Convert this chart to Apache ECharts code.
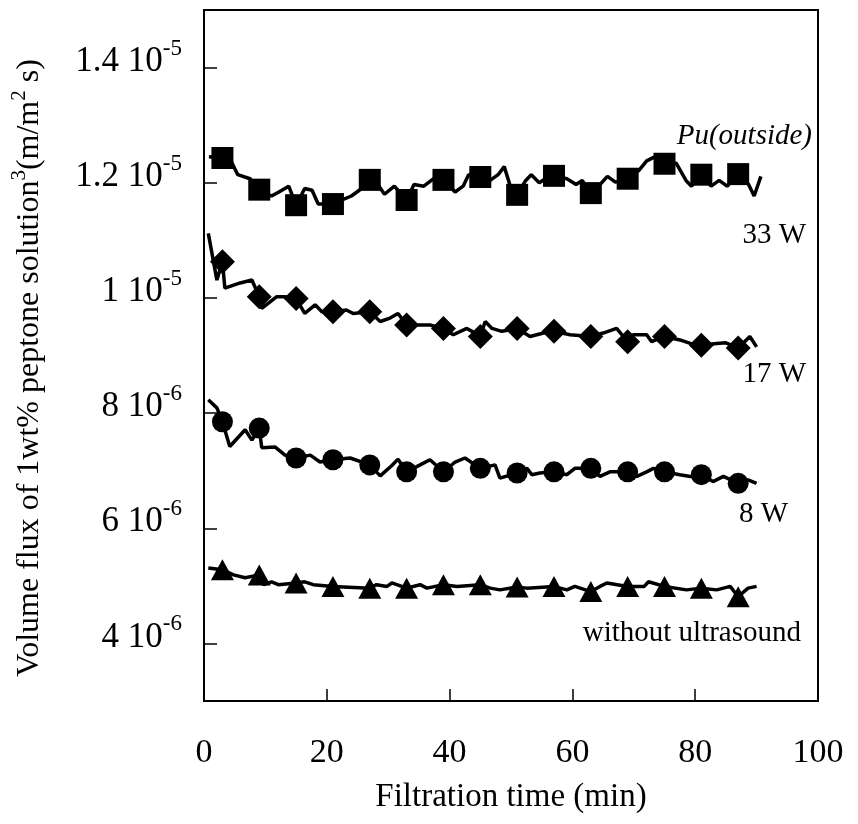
<!DOCTYPE html>
<html>
<head>
<meta charset="utf-8">
<script src="https://cdn.jsdelivr.net/npm/echarts@6/dist/echarts.min.js"></script>
<style>html,body{margin:0;padding:0;background:#fff}#c{width:858px;height:824px}</style>
</head>
<body>
<div id="c"></div>
<script>
// Values in units of 1e-6 m3/(m2 s); time in minutes
const markerTime = [3, 9, 15, 21, 27, 33, 39, 45, 51, 57, 63, 69, 75, 81, 87];
const marker33W = [12.43, 11.88, 11.61, 11.63, 12.05, 11.70, 12.05, 12.10, 11.79, 12.12, 11.82, 12.07, 12.33, 12.14, 12.15];
const marker17W = [10.63, 10.02, 9.99, 9.76, 9.76, 9.53, 9.47, 9.33, 9.47, 9.42, 9.33, 9.24, 9.33, 9.18, 9.13];
const marker8W  = [7.85, 7.74, 7.22, 7.19, 7.10, 6.98, 6.98, 7.04, 6.96, 6.98, 7.04, 6.98, 6.98, 6.93, 6.78];
const markerNoUS = [5.28, 5.19, 5.05, 4.99, 4.96, 4.96, 5.02, 5.02, 4.98, 4.99, 4.90, 4.99, 4.99, 4.96, 4.81];

const line33WTime = [0.8, 3, 4.3, 5.5, 7.5, 9, 11, 12.2, 13.8, 15, 16.4, 17.6, 18.6, 21, 22.4, 24, 25.3, 27, 28.5, 29.4, 31, 33, 34.2, 35.8, 37.4, 39, 40.9, 42.2, 43.1, 45, 46.6, 47.9, 48.9, 49.8, 51, 52.4, 53.3, 54.6, 55.6, 57, 59.1, 60.6, 61.6, 63, 64.5, 65.7, 67, 69, 70.8, 72.1, 73.4, 75, 76.9, 78.5, 79.4, 81, 82.6, 83.9, 85.2, 87, 88.7, 89.6, 90.7];
const line33WFlux = [12.45, 12.43, 12.40, 12.14, 12.07, 11.88, 11.77, 11.84, 11.94, 11.61, 11.90, 11.87, 11.63, 11.63, 11.70, 11.77, 11.87, 12.05, 11.94, 11.80, 11.94, 11.70, 11.97, 11.94, 12.07, 12.05, 11.84, 11.94, 12.14, 12.10, 12.04, 12.14, 12.28, 11.97, 11.79, 12.04, 12.14, 12.00, 12.07, 12.12, 12.07, 11.97, 12.04, 11.82, 11.97, 12.11, 12.01, 12.07, 12.21, 12.38, 12.45, 12.33, 12.34, 12.04, 11.94, 12.14, 11.94, 12.04, 11.94, 12.15, 11.97, 11.77, 12.11];

const line17WTime = [0.7, 2.1, 3, 3.4, 5.9, 7.8, 9, 9.4, 11.8, 13.2, 15, 16.4, 18.1, 19.2, 21, 23.2, 24.3, 27, 28.7, 30.3, 31.6, 33, 34.6, 36.8, 39, 40.6, 42.8, 43.8, 45, 45.8, 46.9, 48.5, 51, 53.1, 55.3, 57, 59.6, 63, 65.0, 67.2, 69, 69.9, 72.1, 72.9, 75, 77.5, 79.2, 81, 83.5, 85, 87, 88.9, 90.0];
const line17WFlux = [11.12, 10.31, 10.63, 10.17, 10.26, 10.31, 10.02, 9.82, 10.02, 10.02, 9.99, 9.73, 9.88, 9.76, 9.76, 9.79, 9.73, 9.76, 9.59, 9.65, 9.73, 9.53, 9.53, 9.53, 9.47, 9.36, 9.47, 9.41, 9.33, 9.59, 9.47, 9.42, 9.47, 9.33, 9.39, 9.42, 9.36, 9.33, 9.39, 9.47, 9.24, 9.36, 9.36, 9.24, 9.33, 9.27, 9.21, 9.18, 9.21, 9.22, 9.13, 9.33, 9.15];

const line8WTime = [0.7, 2.1, 3, 4.2, 6.7, 7.8, 9, 9.4, 11.6, 13.2, 15, 17.3, 18.9, 21, 23.8, 27, 28.7, 30.6, 31.6, 33, 35.2, 36.8, 39, 40.9, 42.5, 45, 47.4, 48.2, 51, 52.6, 53.4, 54.7, 57, 59.1, 60.4, 63, 64.5, 66.1, 69, 70.5, 72.1, 73.2, 75, 77.5, 79.2, 81, 82.9, 84.6, 87, 88.6, 90.0];
const line8WFlux = [8.23, 8.09, 7.85, 7.42, 7.71, 7.53, 7.74, 7.40, 7.41, 7.27, 7.22, 7.27, 7.15, 7.19, 7.22, 7.10, 6.91, 7.09, 7.20, 6.98, 7.10, 7.19, 6.98, 7.15, 7.22, 7.04, 7.10, 6.87, 6.96, 7.04, 6.93, 6.96, 6.98, 6.93, 7.04, 7.04, 6.90, 6.98, 6.98, 6.90, 6.98, 7.04, 6.98, 6.93, 6.90, 6.93, 6.81, 6.90, 6.78, 6.84, 6.78];

const lineNoUSTime = [0.7, 3, 4.8, 6.7, 9, 9.7, 11.0, 12.1, 15, 16.4, 17.8, 21, 27, 28.1, 29.8, 30.6, 33, 35.2, 36.3, 39, 41.2, 45, 46.6, 48.2, 51, 52.6, 57, 59.1, 60.4, 63, 64.5, 65.6, 69, 71.7, 72.4, 75, 78.6, 81, 83.5, 85.7, 87, 88.6, 90.0];
const lineNoUSFlux = [5.31, 5.28, 5.19, 5.14, 5.19, 5.02, 5.07, 5.02, 5.05, 5.07, 5.02, 4.99, 4.96, 5.02, 4.99, 5.05, 4.96, 5.02, 4.96, 5.02, 4.99, 5.02, 4.96, 4.93, 4.98, 4.96, 4.99, 4.93, 4.99, 4.90, 4.99, 5.05, 4.99, 4.99, 5.07, 4.99, 4.93, 4.96, 4.93, 4.99, 4.81, 4.96, 4.99];

const yTickValues = [4, 6, 8, 10, 12, 14];
const yTickMantissa = ['4', '6', '8', '1', '1.2', '1.4'];
const yTickExponent = ['-6', '-6', '-6', '-5', '-5', '-5'];

const zip = (a, b) => a.map((v, i) => [v, b[i]]);
const FONT = "'Liberation Serif', 'Times New Roman', serif";

const chart = echarts.init(document.getElementById('c'), null, {renderer: 'canvas'});

const lineStyle = {color: '#000', width: 3.5};
function lineSeries(t, f) {
  return {type: 'line', data: zip(t, f), symbol: 'none', lineStyle: lineStyle, z: 2, animation: false};
}
function markSeries(vals, sym, size) {
  return {type: 'scatter', data: zip(markerTime, vals), symbol: sym, symbolSize: size,
    itemStyle: {color: '#000', opacity: 1}, z: 3, animation: false};
}

chart.setOption({
  backgroundColor: '#fff',
  animation: false,
  grid: {left: 204, right: 40, top: 10, bottom: 123, show: true, borderColor: '#000', borderWidth: 2, backgroundColor: 'transparent'},
  xAxis: {
    type: 'value', min: 0, max: 100, interval: 20,
    axisLine: {show: true, lineStyle: {color: '#000', width: 2}},
    axisTick: {show: true, inside: true, length: 12, lineStyle: {color: '#000', width: 1.5}},
    splitLine: {show: false},
    axisLabel: {color: '#000', fontFamily: FONT, fontSize: 34, margin: 35},
    name: 'Filtration time (min)', nameLocation: 'middle', nameGap: 80,
    nameTextStyle: {color: '#000', fontFamily: FONT, fontSize: 33}
  },
  yAxis: {
    type: 'value', min: 3, max: 15,
    axisLine: {show: true, lineStyle: {color: '#000', width: 2}},
    axisTick: {show: true, inside: true, length: 13, customValues: yTickValues, lineStyle: {color: '#000', width: 1.5}},
    splitLine: {show: false},
    axisLabel: {
      customValues: yTickValues, margin: 22, color: '#000', fontFamily: FONT,
      formatter: function (v) {
        const i = yTickValues.indexOf(Math.round(v));
        if (i < 0) return '';
        return '{m|' + yTickMantissa[i] + ' 10}{e|' + yTickExponent[i] + '}';
      },
      rich: {
        m: {fontFamily: FONT, fontSize: 35, color: '#000', padding: [0, 0, 12, 0]},
        e: {fontFamily: FONT, fontSize: 23, color: '#000', padding: [0, 0, 38, 0]}
      }
    }
  },
  graphic: [
    {type: 'text', x: 30, y: 368, rotation: Math.PI / 2,
      style: {text: '{a|Volume flux of 1wt% peptone solution}{s|3}{a|(m/m}{s|2}{a| s)}',
        align: 'center', verticalAlign: 'middle',
        rich: {a: {fontFamily: FONT, fontSize: 32, fill: '#000'},
               s: {fontFamily: FONT, fontSize: 21, fill: '#000', padding: [0, 0, 22, 0]}}}},
    {type: 'text', x: 812, y: 136, style: {text: 'Pu(outside)', fontFamily: FONT, fontStyle: 'italic', fontSize: 29, fill: '#000', align: 'right', verticalAlign: 'middle'}},
    {type: 'text', x: 806, y: 235, style: {text: '33 W', fontFamily: FONT, fontSize: 29, fill: '#000', align: 'right', verticalAlign: 'middle'}},
    {type: 'text', x: 806, y: 374, style: {text: '17 W', fontFamily: FONT, fontSize: 29, fill: '#000', align: 'right', verticalAlign: 'middle'}},
    {type: 'text', x: 788, y: 514, style: {text: '8 W', fontFamily: FONT, fontSize: 29, fill: '#000', align: 'right', verticalAlign: 'middle'}},
    {type: 'text', x: 801, y: 633, style: {text: 'without ultrasound', fontFamily: FONT, fontSize: 29, fill: '#000', align: 'right', verticalAlign: 'middle'}}
  ],
  series: [
    lineSeries(line33WTime, line33WFlux),
    lineSeries(line17WTime, line17WFlux),
    lineSeries(line8WTime, line8WFlux),
    lineSeries(lineNoUSTime, lineNoUSFlux),
    markSeries(marker33W, 'rect', 22),
    markSeries(marker17W, 'diamond', 25),
    markSeries(marker8W, 'circle', 21),
    markSeries(markerNoUS, 'triangle', [23, 21])
  ]
});
</script>
</body>
</html>
